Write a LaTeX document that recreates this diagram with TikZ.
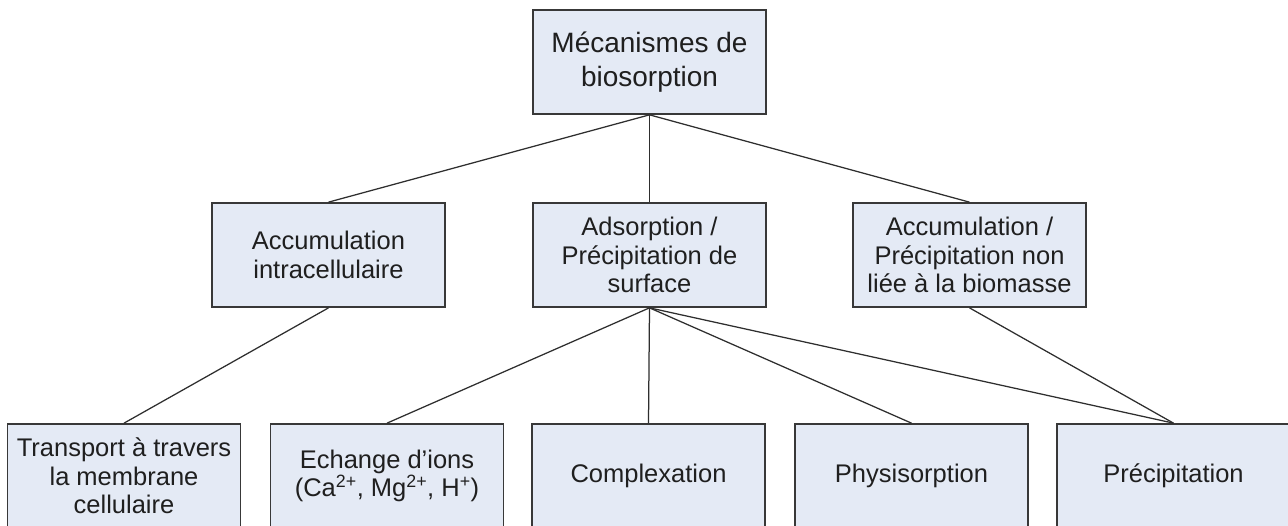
\documentclass[tikz,border=0pt]{standalone}
\usepackage{fontspec}
\setmainfont{Liberation Sans}
\begin{document}
\begin{tikzpicture}[x=1pt,y=-1pt,
  box/.style={draw=black!78, line width=1.7pt, fill=boxfill,
    minimum width=233pt, minimum height=104pt, inner sep=0pt,
    align=center, text=black!88,
    font=\fontsize{25.5}{28.5}\selectfont},
  rootbox/.style={box, font=\fontsize{28}{34}\selectfont},
  link/.style={draw=black!82, line width=1.25pt}]
\definecolor{boxfill}{RGB}{228,234,245}
\path[use as bounding box, clip] (0,0) rectangle (1288,525);
\fill[white] (0,0) rectangle (1288,525);

% root
\node[rootbox] (root) at (649.5,62) {Mécanismes de\\biosorption};

% second level
\node[box] (acc) at (328.5,255) {Accumulation\\intracellulaire};
\node[box] (ads) at (649.5,255) {Adsorption /\\Précipitation de\\surface};
\node[box] (nonbio) at (969.5,255) {Accumulation /\\Précipitation non\\liée à la biomasse};

% third level
\node[box] (trans) at (124,476) {Transport à travers\\la membrane\\cellulaire};
\node[box] (ech) at (387,476) {Echange d’ions\\(Ca\textsuperscript{2+}, Mg\textsuperscript{2+}, H\textsuperscript{+})};
\node[box] (cplx) at (648.5,476) {Complexation};
\node[box] (phys) at (911.5,476) {Physisorption};
\node[box] (prec) at (1173.5,476) {Précipitation};

% connectors
\draw[link] (root.south) -- (acc.north);
\draw[link] (root.south) -- (ads.north);
\draw[link] (root.south) -- (nonbio.north);
\draw[link] (acc.south) -- (trans.north);
\draw[link] (ads.south) -- (ech.north);
\draw[link] (ads.south) -- (cplx.north);
\draw[link] (ads.south) -- (phys.north);
\draw[link] (ads.south) -- (prec.north);
\draw[link] (nonbio.south) -- (prec.north);
\end{tikzpicture}
\end{document}
